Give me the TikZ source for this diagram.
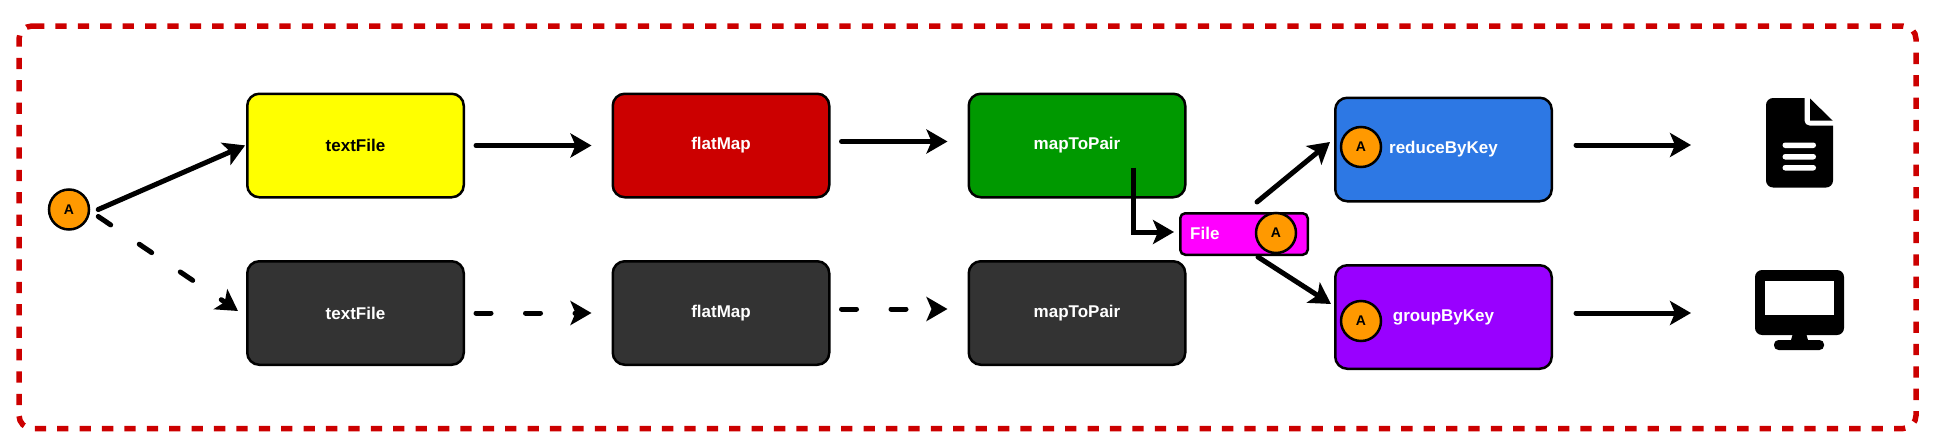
\documentclass[tikz,border=0pt]{standalone}
\usepackage{fontspec}
\setmainfont{Liberation Sans}
\usetikzlibrary{arrows.meta,calc}
\definecolor{framered}{HTML}{CC0000}
\definecolor{boxyellow}{HTML}{FFFF00}
\definecolor{boxred}{HTML}{CC0000}
\definecolor{boxgreen}{HTML}{009900}
\definecolor{boxdark}{HTML}{333333}
\definecolor{boxblue}{HTML}{2D78E4}
\definecolor{boxpurple}{HTML}{9900FF}
\definecolor{boxmagenta}{HTML}{FF00FF}
\definecolor{badgeorange}{HTML}{FF9900}
\tikzset{
  opbox/.style={draw=black,line width=2.5pt,rounded corners=12pt,minimum width=216.5pt,minimum height=103.5pt,inner sep=0pt,font=\fontsize{17}{20}\selectfont\bfseries,text=white},
  badge/.style={circle,draw=black,line width=2.5pt,fill=badgeorange,minimum size=40pt,inner sep=0pt,font=\fontsize{14}{16}\selectfont\bfseries},
  link/.style={line width=5pt,line cap=round,-{Stealth[length=21pt,width=24pt,inset=5pt]}},
  dashlink/.style={link,dash pattern=on 15pt off 34.5pt},
}
\begin{document}
\begin{tikzpicture}[x=1pt,y=-1pt]
\useasboundingbox (0,0) rectangle (1936,447);
\draw[framered,line width=5.5pt,dash pattern=on 11.3pt off 11.1pt,rounded corners=13pt]
  (33,26) -- (1916,26) -- (1916,428.5) -- (19,428.5) -- (19,26) -- (33,26);

\node[opbox,fill=boxyellow,text=black] (tf1) at (355.5,145.5) {textFile};
\node[opbox,fill=boxred] (fm1) at (721,145.5) {flatMap};
\node[opbox,fill=boxgreen] (mp1) at (1077,145.5) {mapToPair};
\node[opbox,fill=boxdark] (tf2) at (355.5,313) {textFile};
\node[opbox,fill=boxdark] (fm2) at (721,313) {flatMap};
\node[opbox,fill=boxdark] (mp2) at (1077,313) {mapToPair};
\node[opbox,fill=boxblue] (rb) at (1443.5,149.5) {reduceByKey};
\node[opbox,fill=boxpurple] (gb) at (1443.5,317) {groupByKey};
\node[draw=black,line width=2.5pt,rounded corners=5pt,fill=boxmagenta,minimum width=127.5pt,minimum height=41.5pt,inner sep=0pt] (file) at (1244,234) {};
\node[text=white,font=\fontsize{17}{20}\selectfont\bfseries,anchor=west,inner sep=0pt] (filetext) at (1190,233) {File};

\node[badge] (start) at (69,209.5) {A};
\node[badge] (bfile) at (1276,233) {A};
\node[badge] (brb) at (1361,147) {A};
\node[badge] (bgb) at (1361,321) {A};

\coordinate (iconfile) at (1766,145);
\coordinate (iconscreen) at (1755,313);

% solid connectors
\draw[link,shorten >=1pt] ([xshift=8pt]start.east) -- (tf1.west |- 0,145);
\draw[link,shorten <=11pt,shorten >=20pt] (tf1.east) -- (fm1.west);
\draw[link,shorten <=11pt,shorten >=20pt] ([yshift=4pt]fm1.east) -- ([yshift=4pt]mp1.west);
\draw[link,line cap=butt,line join=miter] ([xshift=56pt,yshift=31pt]mp1.south) |- ([yshift=2pt,xshift=-5pt]file.west);
\draw[link] ([xshift=13pt,yshift=10pt]file.north) -- ([xshift=-4pt,yshift=7.5pt]rb.west);
\draw[link] ([xshift=14pt,yshift=-1pt]file.south) -- ([xshift=-3pt,yshift=13pt]gb.west);
\draw[link,shorten <=23pt] (rb.east |- 0,145) -- ($(iconfile)+(-75pt,0pt)$);
\draw[link,shorten <=23pt] (gb.east |- 0,313) -- ($(iconscreen)+(-64pt,0pt)$);

% dashed connectors
\draw[dashlink] ([xshift=8pt,yshift=-7pt]start.east) -- ([xshift=-8pt,yshift=2pt]tf2.west);
\draw[dashlink,shorten <=11pt,shorten >=20pt] (tf2.east) -- (fm2.west);
\draw[dashlink,shorten <=11pt,shorten >=20pt] ([yshift=4pt]fm2.east) -- ([yshift=4pt]mp2.west);

% document icon
\fill[black,rounded corners=7pt] (1766,98) rectangle (1833,187.5);
\fill[white,rounded corners=5pt] (1804.5,90) -- (1804.5,125.5) -- (1850,125.5) -- (1850,90) -- cycle;
\fill[black] (1810,98.5) -- (1832.5,120.5) -- (1810,120.5) -- cycle;
\fill[white,rounded corners=2.7pt] (1782.5,142.5) rectangle (1816,148);
\fill[white,rounded corners=2.7pt] (1782.5,154) rectangle (1816,159.5);
\fill[white,rounded corners=2.7pt] (1782.5,165) rectangle (1816,170.5);

% monitor icon
\fill[black,rounded corners=7pt] (1755,270) rectangle (1844,335);
\fill[white] (1764.5,280.5) rectangle (1834,315);
\fill[black] (1793,333) -- (1806,333) -- (1808.5,342) -- (1790.5,342) -- cycle;
\fill[black,rounded corners=4.5pt] (1774,340) rectangle (1824,350);
\end{tikzpicture}
\end{document}
